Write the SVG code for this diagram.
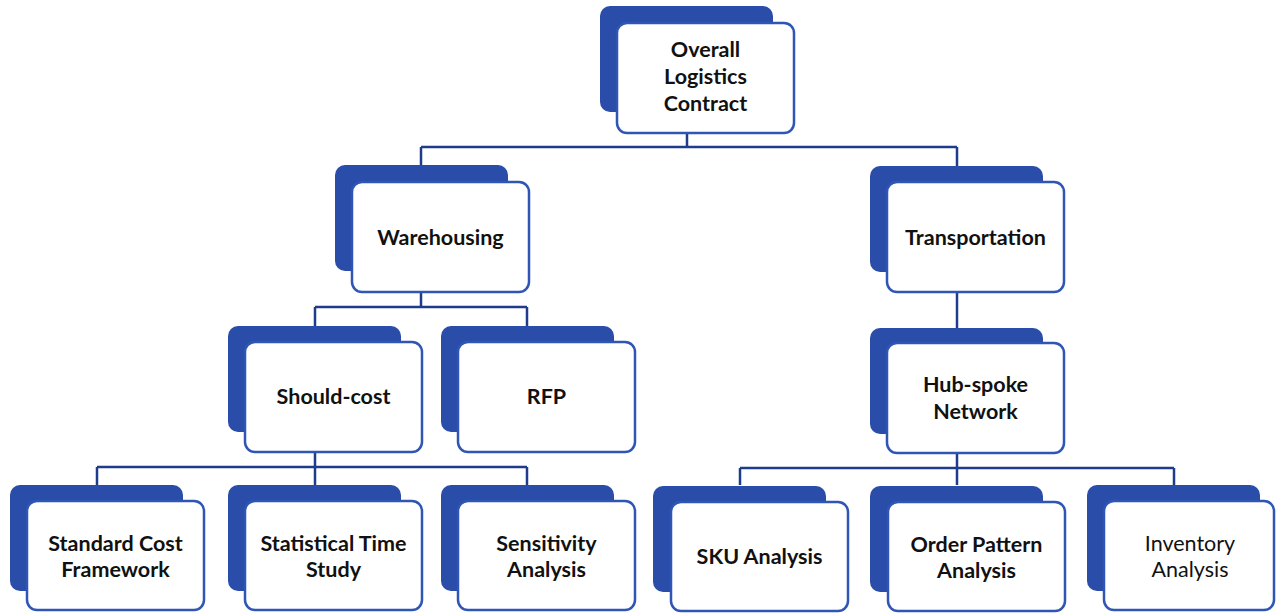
<svg xmlns="http://www.w3.org/2000/svg" width="1277" height="613" viewBox="0 0 1277 613">
  <style>
    .back { fill: #2B4DAA; }
    .front { fill: #FFFFFF; stroke: #2F55B5; stroke-width: 2.5; }
    .wire { fill: none; stroke: #1F3C8C; stroke-width: 2.5; stroke-linejoin: miter; }
    .label { font-family: Lato, "Open Sans", "Liberation Sans", sans-serif; font-size: 21.5px; font-weight: bold; fill: #111111; text-anchor: middle; }
    .plain { font-weight: normal; }
  </style>
  <rect width="1277" height="613" fill="#FFFFFF"/>

  <!-- tree connectors -->
  <g id="connectors">
    <path class="wire" d="M687 133 V147 M421 147 H957 M421 147 V165 M957 147 V166"/>
    <path class="wire" d="M421 292 V307 M315 307 H527 M315 307 V326 M527 307 V326"/>
    <path class="wire" d="M957 292 V328"/>
    <path class="wire" d="M315 452 V467 M97 467 H527 M97 467 V485 M315 467 V485 M527 467 V485"/>
    <path class="wire" d="M957 453 V468 M740 468 H1174 M740 468 V485 M957 468 V485 M1174 468 V485"/>
  </g>

  <!-- level 0 -->
  <g id="overall-logistics-contract">
    <rect class="back" x="600" y="6" width="173" height="106" rx="10"/>
    <rect class="front" x="617" y="23" width="177" height="110" rx="10"/>
    <text class="label" x="705.5" y="57">Overall</text>
    <text class="label" x="705.5" y="84">Logistics</text>
    <text class="label" x="705.5" y="111">Contract</text>
  </g>

  <!-- level 1 -->
  <g id="warehousing">
    <rect class="back" x="335" y="165" width="173" height="106" rx="10"/>
    <rect class="front" x="352" y="182" width="177" height="110" rx="10"/>
    <text class="label" x="440.5" y="245">Warehousing</text>
  </g>
  <g id="transportation">
    <rect class="back" x="870" y="166" width="173" height="106" rx="10"/>
    <rect class="front" x="887" y="182" width="177" height="110" rx="10"/>
    <text class="label" x="975.5" y="245">Transportation</text>
  </g>

  <!-- level 2 -->
  <g id="should-cost">
    <rect class="back" x="228" y="326" width="173" height="106" rx="10"/>
    <rect class="front" x="245" y="342" width="177" height="110" rx="10"/>
    <text class="label" x="333.5" y="404">Should-cost</text>
  </g>
  <g id="rfp">
    <rect class="back" x="441" y="326" width="173" height="106" rx="10"/>
    <rect class="front" x="458" y="342" width="177" height="110" rx="10"/>
    <text class="label" x="546.5" y="404">RFP</text>
  </g>
  <g id="hub-spoke-network">
    <rect class="back" x="870" y="328" width="173" height="106" rx="10"/>
    <rect class="front" x="887" y="343" width="177" height="110" rx="10"/>
    <text class="label" x="975.5" y="392">Hub-spoke</text>
    <text class="label" x="975.5" y="419">Network</text>
  </g>

  <!-- level 3 -->
  <g id="standard-cost-framework">
    <rect class="back" x="10" y="485" width="173" height="106" rx="10"/>
    <rect class="front" x="27" y="501" width="177" height="109" rx="10"/>
    <text class="label" x="115.5" y="551">Standard Cost</text>
    <text class="label" x="115.5" y="577">Framework</text>
  </g>
  <g id="statistical-time-study">
    <rect class="back" x="228" y="485" width="173" height="106" rx="10"/>
    <rect class="front" x="245" y="501" width="177" height="109" rx="10"/>
    <text class="label" x="333.5" y="551">Statistical Time</text>
    <text class="label" x="333.5" y="577">Study</text>
  </g>
  <g id="sensitivity-analysis">
    <rect class="back" x="441" y="485" width="173" height="106" rx="10"/>
    <rect class="front" x="458" y="501" width="177" height="109" rx="10"/>
    <text class="label" x="546.5" y="551">Sensitivity</text>
    <text class="label" x="546.5" y="577">Analysis</text>
  </g>
  <g id="sku-analysis">
    <rect class="back" x="653" y="486" width="173" height="106" rx="10"/>
    <rect class="front" x="671" y="502" width="177" height="109" rx="10"/>
    <text class="label" x="759.5" y="564">SKU Analysis</text>
  </g>
  <g id="order-pattern-analysis">
    <rect class="back" x="870" y="486" width="173" height="106" rx="10"/>
    <rect class="front" x="888" y="502" width="177" height="109" rx="10"/>
    <text class="label" x="976.5" y="552">Order Pattern</text>
    <text class="label" x="976.5" y="578">Analysis</text>
  </g>
  <g id="inventory-analysis">
    <rect class="back" x="1087" y="485" width="173" height="106" rx="10"/>
    <rect class="front" x="1104" y="501" width="170" height="109" rx="10"/>
    <text class="label plain" x="1190" y="551">Inventory</text>
    <text class="label plain" x="1190" y="577">Analysis</text>
  </g>
</svg>
